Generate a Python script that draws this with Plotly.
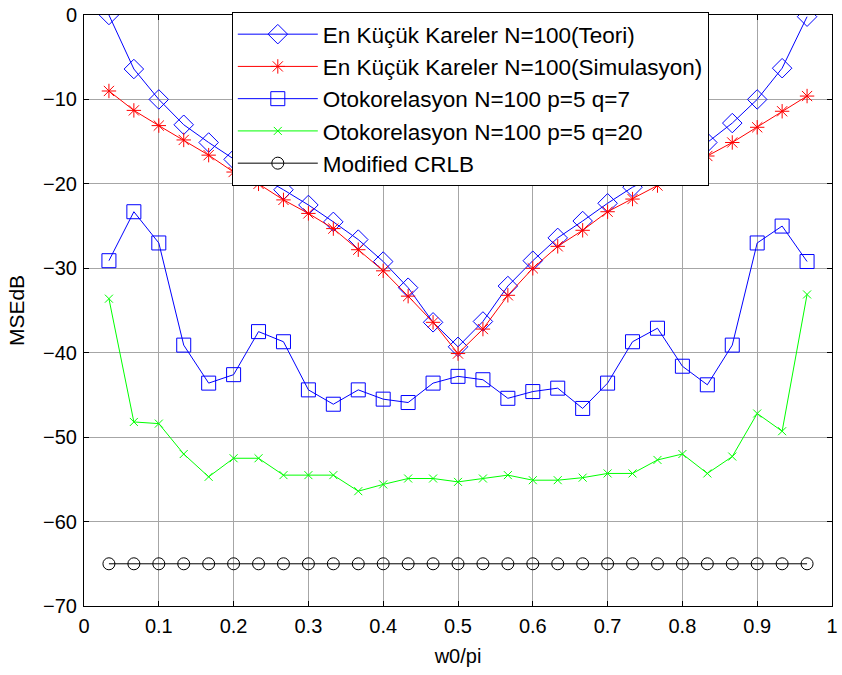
import numpy as np
import plotly.graph_objects as go

# Normalised frequency grid w0/pi = k/30, k = 1..29
w0 = [k / 30 for k in range(1, 30)]

ls_theory = [0.0, -6.4, -10.0, -13.0, -15.1, -17.1, -19.0, -20.7, -22.5, -24.5,
             -26.6, -29.2, -32.3, -36.4, -39.3, -36.3, -32.1, -29.1, -26.4, -24.4,
             -22.3, -20.4, -18.9, -17.1, -15.1, -12.8, -10.0, -6.3, -0.2]

ls_sim = [-9.0, -11.3, -13.1, -14.8, -16.6, -18.6, -20.0, -21.9, -23.5, -25.3,
          -27.8, -30.3, -33.3, -36.4, -40.1, -37.2, -33.2, -30.0, -27.4, -25.5,
          -23.3, -21.8, -20.2, -18.5, -16.7, -15.1, -13.3, -11.4, -9.6]

acorr_q7 = [-29.1, -23.3, -27.0, -39.1, -43.6, -42.6, -37.5, -38.7, -44.4, -46.1,
            -44.4, -45.5, -45.9, -43.6, -42.8, -43.2, -45.4, -44.6, -44.2, -46.6,
            -43.6, -38.7, -37.1, -41.6, -43.8, -39.1, -27.0, -25.0, -29.2]

acorr_q20 = [-33.6, -48.2, -48.4, -52.0, -54.7, -52.5, -52.5, -54.5, -54.5, -54.5,
             -56.4, -55.6, -54.9, -54.9, -55.3, -54.9, -54.5, -55.1, -55.1, -54.8,
             -54.3, -54.3, -52.7, -52.0, -54.3, -52.3, -47.2, -49.3, -33.1]

crlb = [-65.0] * 29

series = [
    ("En Küçük Kareler N=100(Teori)", ls_theory, "#0000ff", "diamond-open", 15),
    ("En Küçük Kareler N=100(Simulasyon)", ls_sim, "#ff0000", "asterisk-open", 12),
    ("Otokorelasyon N=100 p=5 q=7", acorr_q7, "#0000ff", "square-open", 14),
    ("Otokorelasyon N=100 p=5 q=20", acorr_q20, "#00ff00", "x-thin-open", 8),
    ("Modified CRLB", crlb, "#000000", "circle-open", 12),
]

FONT = "Liberation Sans, Arial, sans-serif"

fig = go.Figure()
for i, (name, vals, color, sym, size) in enumerate(series):
    fig.add_trace(go.Scatter(
        x=w0, y=vals, name=name, mode="lines+markers",
        legendgroup=f"g{i}",
        line=dict(color=color, width=1),
        marker=dict(symbol=sym, size=size, color=color,
                    line=dict(color=color, width=1)),
    ))

axis_common = dict(
    showline=True, linecolor="black", linewidth=1, mirror="ticks",
    ticks="inside", ticklen=5, tickcolor="black",
    showgrid=True, gridcolor="#a6a6a6", gridwidth=1,
    zeroline=False, ticklabeloverflow="allow",
    tickfont=dict(family=FONT, size=20, color="black"),
)

fig.update_xaxes(
    range=[0, 1], dtick=0.1, tick0=0,
    title=dict(text="w0/pi", font=dict(family=FONT, size=20, color="black"),
               standoff=12),
    ticklabelstandoff=2,
    **axis_common,
)
fig.update_yaxes(
    range=[-70, 0], dtick=10, tick0=0,
    title=dict(text="MSEdB", font=dict(family=FONT, size=21, color="black"),
               standoff=12),
    ticklabelstandoff=2,
    **axis_common,
)

fig.update_layout(
    width=842, height=675,
    margin=dict(l=84, r=4, t=12, b=69),
    paper_bgcolor="white", plot_bgcolor="white",
    font=dict(family=FONT, size=20, color="black"),
    legend=dict(
        x=0.1976, y=1.005, xanchor="left", yanchor="top",
        bgcolor="white", bordercolor="black", borderwidth=1,
        font=dict(family=FONT, size=22.5, color="black"),
        itemwidth=80, tracegroupgap=0, traceorder="grouped",
    ),
)

fig.write_html("out.html")
